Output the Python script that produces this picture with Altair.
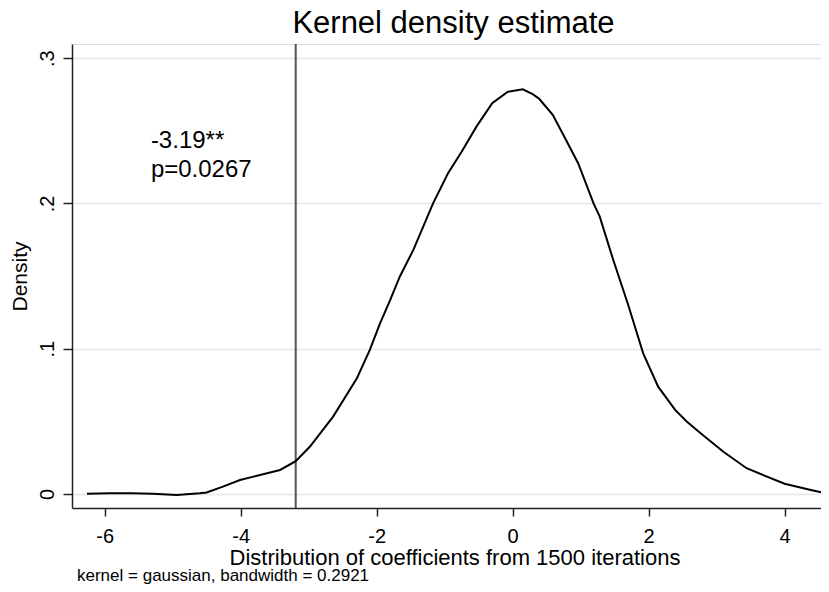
import altair as alt
import pandas as pd

# ---- data ----
kde_x = [-6.26, -5.92, -5.6, -5.29, -4.94, -4.6, -4.5, -4.26, -4.01, -3.81, -3.42,
         -3.19, -2.98, -2.64, -2.29, -2.10, -1.95, -1.80, -1.66, -1.46, -1.17,
         -0.95, -0.75, -0.53, -0.30, -0.07, 0.15, 0.30, 0.39, 0.59, 0.77, 0.965,
         1.19, 1.28, 1.48, 1.70, 1.92, 2.14, 2.39, 2.56, 2.76, 3.10, 3.44, 3.74,
         4.0, 4.37, 4.59]
kde_y = [0.0001, 0.0005, 0.0004, 0.0001, -0.0008, 0.0004, 0.001, 0.005, 0.0096,
         0.0119, 0.0165, 0.0225, 0.0326, 0.0532, 0.0796, 0.0991, 0.1174, 0.1335,
         0.1495, 0.168, 0.200, 0.2207, 0.2355, 0.253, 0.269, 0.2768, 0.2785,
         0.275, 0.272, 0.261, 0.245, 0.2275, 0.200, 0.191, 0.161, 0.130, 0.0968,
         0.0738, 0.0578, 0.0498, 0.042, 0.029, 0.0177, 0.0119, 0.007, 0.0028,
         0.0005]
coef_value = [-3.19]
annot_lines = ["-3.19**", "p=0.0267"]
annot_x = [-5.32, -5.32]
annot_y = [0.238, 0.218]
x_ticks = [-6, -4, -2, 0, 2, 4]
y_ticks = [0, 0.1, 0.2, 0.3]
title_text = ["Kernel density estimate"]
x_title = "Distribution of coefficients from 1500 iterations"
y_title = "Density"
note_text = ["kernel = gaussian, bandwidth = 0.2921"]

FONT = "Liberation Sans"
X_DOMAIN = [-6.48, 4.535]
Y_DOMAIN = [-0.0097, 0.3097]

curve_df = pd.DataFrame({"x": kde_x, "y": kde_y})
rule_df = pd.DataFrame({"x": coef_value})
annot_df = pd.DataFrame({"x": annot_x, "y": annot_y, "t": annot_lines})
note_df = pd.DataFrame({"t": note_text})
title_df = pd.DataFrame({"t": title_text})

x_scale = alt.Scale(domain=X_DOMAIN, nice=False, zero=False)
y_scale = alt.Scale(domain=Y_DOMAIN, nice=False, zero=False)

x_axis = alt.Axis(
    values=x_ticks, labelExpr="datum.value + ''", grid=False,
    title=x_title, titleFontSize=22, titleFont=FONT, titleFontWeight="normal",
    titleColor="black", titleX=382.5, titleY=56, titleAlign="center",
    titleBaseline="alphabetic", titleAnchor="middle",
    labelFontSize=20, labelFont=FONT, labelColor="black",
    labelBaseline="alphabetic", labelPadding=26,
    tickSize=8, tickWidth=1.5, tickColor="#222",
    domainColor="#222", domainWidth=1.5,
)
y_axis = alt.Axis(
    values=y_ticks,
    labelExpr="datum.value == 0 ? '0' : replace(format(datum.value, '.1f'), '0.', '.')",
    grid=True, gridColor="#e6e6e6", gridWidth=1.5,
    title=y_title, titleFontSize=21, titleFont=FONT, titleFontWeight="normal",
    titleColor="black", titleAngle=-90, titleX=-46, titleY=232,
    titleAlign="center", titleBaseline="alphabetic",
    labelFontSize=20, labelFont=FONT, labelColor="black", labelAngle=-90,
    labelAlign="center", labelBaseline="alphabetic", labelPadding=10,
    tickSize=9, tickWidth=1.5, tickColor="#222",
    domainColor="#222", domainWidth=1.5,
)

curve = alt.Chart(curve_df).mark_line(color="black", strokeWidth=2).encode(
    x=alt.X("x:Q", scale=x_scale, axis=x_axis),
    y=alt.Y("y:Q", scale=y_scale, axis=y_axis),
)

rule = alt.Chart(rule_df).mark_rule(color="#555", strokeWidth=2).encode(
    x=alt.X("x:Q", scale=x_scale),
)

annot = alt.Chart(annot_df).mark_text(
    align="left", baseline="alphabetic", fontSize=24, font=FONT, color="black"
).encode(
    x=alt.X("x:Q", scale=x_scale),
    y=alt.Y("y:Q", scale=y_scale),
    text="t:N",
)

title = alt.Chart(title_df).mark_text(
    align="center", baseline="alphabetic", fontSize=31, font=FONT, color="black"
).encode(
    x=alt.value(381.5), y=alt.value(-11), text="t:N",
)

note = alt.Chart(note_df).mark_text(
    align="left", baseline="alphabetic", fontSize=17, font=FONT, color="black"
).encode(
    x=alt.value(5), y=alt.value(537), text="t:N",
)

chart = alt.layer(rule, curve, annot, title, note).properties(
    width=749,
    height=464,
    autosize="none",
    padding={"left": 64, "top": 36, "right": 0, "bottom": 76},
).configure_view(stroke=None).configure(background="white")

chart.save("out.html", embed_options={"renderer": "svg", "actions": False})
